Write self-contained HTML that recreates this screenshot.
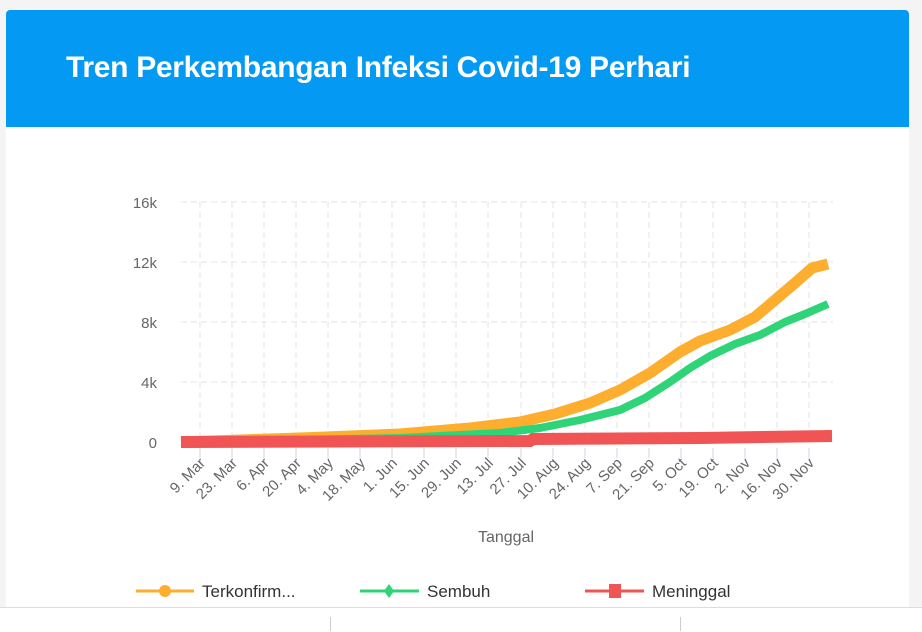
<!DOCTYPE html><html><head><style>
body{margin:0;width:922px;height:631px;background:#f4f4f4;font-family:"Liberation Sans",sans-serif;overflow:hidden;position:relative}
.card{position:absolute;left:6px;top:10px;width:903px;height:597px;background:#fff}
.hdr{position:absolute;left:0;top:0;width:903px;height:117px;background:#0499f2;border-radius:4px 4px 0 0}
.hdr h1{margin:0;position:absolute;left:60px;top:41px;color:#fff;font-size:30px;font-weight:bold;letter-spacing:-0.3px}
.bot{position:absolute;left:0;top:607px;width:922px;height:24px;background:#fff;border-top:1px solid #ddd}
</style></head><body>
<div class="card"><div class="hdr"><h1>Tren Perkembangan Infeksi Covid-19 Perhari</h1></div></div>
<div class="bot"><div style="position:absolute;left:330px;top:9px;width:1px;height:14px;background:#ccc"></div><div style="position:absolute;left:680px;top:9px;width:1px;height:14px;background:#ccc"></div></div>
<svg width="922" height="631" style="position:absolute;left:0;top:0" font-family="Liberation Sans, sans-serif">
<g stroke="#e3e3e3" stroke-dasharray="6,4" stroke-width="1">
<line x1="181" x2="833" y1="202" y2="202"/><line x1="181" x2="833" y1="262" y2="262"/><line x1="181" x2="833" y1="322" y2="322"/><line x1="181" x2="833" y1="382" y2="382"/>
<line x1="200" x2="200" y1="202" y2="442"/><line x1="232" x2="232" y1="202" y2="442"/><line x1="264" x2="264" y1="202" y2="442"/><line x1="296" x2="296" y1="202" y2="442"/><line x1="328" x2="328" y1="202" y2="442"/><line x1="360" x2="360" y1="202" y2="442"/><line x1="392" x2="392" y1="202" y2="442"/><line x1="424" x2="424" y1="202" y2="442"/><line x1="456" x2="456" y1="202" y2="442"/><line x1="488" x2="488" y1="202" y2="442"/><line x1="521" x2="521" y1="202" y2="442"/><line x1="553" x2="553" y1="202" y2="442"/><line x1="585" x2="585" y1="202" y2="442"/><line x1="617" x2="617" y1="202" y2="442"/><line x1="649" x2="649" y1="202" y2="442"/><line x1="681" x2="681" y1="202" y2="442"/><line x1="713" x2="713" y1="202" y2="442"/><line x1="745" x2="745" y1="202" y2="442"/><line x1="777" x2="777" y1="202" y2="442"/><line x1="809" x2="809" y1="202" y2="442"/>
</g>
<g stroke="#ccd6eb"><line x1="200" x2="200" y1="448" y2="458"/><line x1="232" x2="232" y1="448" y2="458"/><line x1="264" x2="264" y1="448" y2="458"/><line x1="296" x2="296" y1="448" y2="458"/><line x1="328" x2="328" y1="448" y2="458"/><line x1="360" x2="360" y1="448" y2="458"/><line x1="392" x2="392" y1="448" y2="458"/><line x1="424" x2="424" y1="448" y2="458"/><line x1="456" x2="456" y1="448" y2="458"/><line x1="488" x2="488" y1="448" y2="458"/><line x1="521" x2="521" y1="448" y2="458"/><line x1="553" x2="553" y1="448" y2="458"/><line x1="585" x2="585" y1="448" y2="458"/><line x1="617" x2="617" y1="448" y2="458"/><line x1="649" x2="649" y1="448" y2="458"/><line x1="681" x2="681" y1="448" y2="458"/><line x1="713" x2="713" y1="448" y2="458"/><line x1="745" x2="745" y1="448" y2="458"/><line x1="777" x2="777" y1="448" y2="458"/><line x1="809" x2="809" y1="448" y2="458"/></g>
<g fill="#666" font-size="15" text-anchor="end">
<text x="157" y="208">16k</text><text x="157" y="268">12k</text><text x="157" y="328">8k</text><text x="157" y="388">4k</text><text x="157" y="448">0</text>
</g>
<g fill="#666" font-size="15" text-anchor="end">
<text transform="translate(206,464) rotate(-45)">9. Mar</text>
<text transform="translate(238,464) rotate(-45)">23. Mar</text>
<text transform="translate(270,464) rotate(-45)">6. Apr</text>
<text transform="translate(302,464) rotate(-45)">20. Apr</text>
<text transform="translate(334,464) rotate(-45)">4. May</text>
<text transform="translate(366,464) rotate(-45)">18. May</text>
<text transform="translate(398,464) rotate(-45)">1. Jun</text>
<text transform="translate(430,464) rotate(-45)">15. Jun</text>
<text transform="translate(462,464) rotate(-45)">29. Jun</text>
<text transform="translate(494,464) rotate(-45)">13. Jul</text>
<text transform="translate(527,464) rotate(-45)">27. Jul</text>
<text transform="translate(559,464) rotate(-45)">10. Aug</text>
<text transform="translate(591,464) rotate(-45)">24. Aug</text>
<text transform="translate(623,464) rotate(-45)">7. Sep</text>
<text transform="translate(655,464) rotate(-45)">21. Sep</text>
<text transform="translate(687,464) rotate(-45)">5. Oct</text>
<text transform="translate(719,464) rotate(-45)">19. Oct</text>
<text transform="translate(751,464) rotate(-45)">2. Nov</text>
<text transform="translate(783,464) rotate(-45)">16. Nov</text>
<text transform="translate(815,464) rotate(-45)">30. Nov</text>
</g>
<text x="506" y="542" fill="#666" font-size="16" text-anchor="middle">Tanggal</text>
<path d="M181,442 L300,438 L400,434 L470,428 L520,422 L555,414 L590,403 L620,390 L650,373 L680,352 L700,341 L730,330 L755,317 L775,300 L795,283 L812,268 L828,264" fill="none" stroke="#fdae2e" stroke-width="11" stroke-linejoin="round"/>
<path d="M181,442 L400,438 L500,433 L540,428 L580,420 L620,410 L645,398 L670,382 L690,368 L710,356 L735,344 L760,335 L785,322 L805,314 L828,304" fill="none" stroke="#2ed477" stroke-width="8" stroke-linejoin="round"/>
<path d="M181,442 L530,441 L533,439 L700,438 L832,436" fill="none" stroke="#f05454" stroke-width="12"/>
<g font-size="17" fill="#333">
<line x1="136" x2="194" y1="591" y2="591" stroke="#fdae2e" stroke-width="3"/><circle cx="165" cy="591" r="6" fill="#fdae2e"/><text x="202" y="597">Terkonfirm...</text>
<line x1="360" x2="419" y1="591" y2="591" stroke="#2ed477" stroke-width="3"/><path d="M389,584 L394,591 L389,598 L384,591Z" fill="#2ed477"/><text x="427" y="597">Sembuh</text>
<line x1="585" x2="644" y1="591" y2="591" stroke="#f05454" stroke-width="3"/><rect x="609" y="584" width="12" height="14" fill="#f05454"/><text x="652" y="597">Meninggal</text>
</g>
</svg>
</body></html>
